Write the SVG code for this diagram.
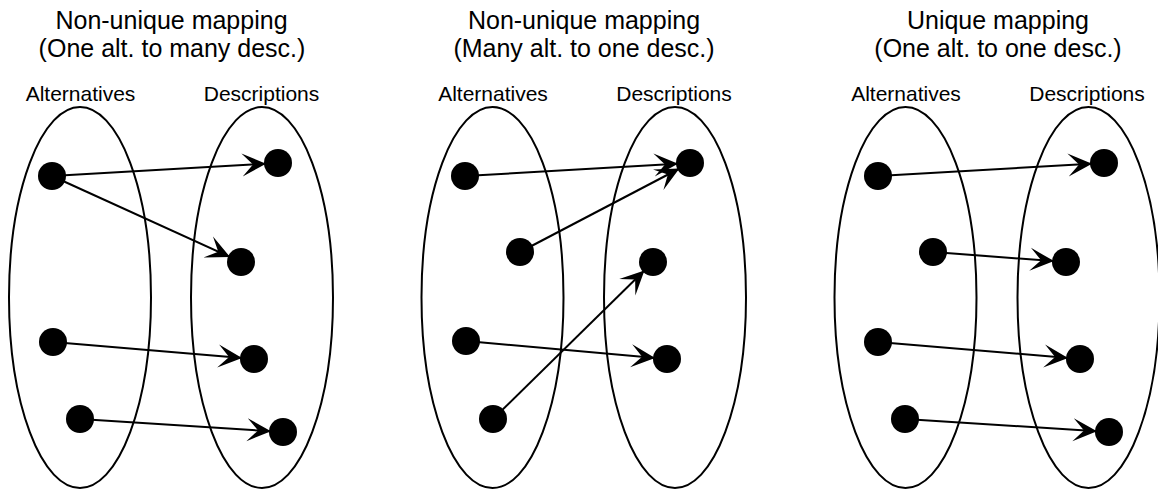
<svg xmlns="http://www.w3.org/2000/svg" width="1158" height="491" viewBox="0 0 1158 491">
  <defs>
    <!-- swallow-tail arrowhead; tip sinks slightly into a 14px dot -->
    <marker id="arrow" markerUnits="userSpaceOnUse" markerWidth="40" markerHeight="24" refX="36" refY="12" orient="auto">
      <path d="M24,12 L0,0.5 L11,12 L0,23.5 Z" fill="#000" stroke="none"/>
    </marker>
  </defs>
  <style>
    text { font-family: "Liberation Sans", Arial, Helvetica, sans-serif; fill: #000; text-anchor: middle; }
    .title { font-size: 25px; }
    .label { font-size: 21px; }
    .set { fill: none; stroke: #000; stroke-width: 2; }
    .dot { fill: #000; }
    .edge { fill: none; stroke: #000; stroke-width: 2; marker-end: url(#arrow); }
  </style>
  <rect width="1158" height="491" fill="#fff"/>

  <!-- headings -->
  <g id="titles">
    <text class="title" x="171.5" y="29">Non-unique mapping</text>
    <text class="title" x="172" y="57">(One alt. to many desc.)</text>
    <text class="title" x="584" y="29">Non-unique mapping</text>
    <text class="title" x="584" y="57">(Many alt. to one desc.)</text>
    <text class="title" x="998" y="29">Unique mapping</text>
    <text class="title" x="998" y="57">(One alt. to one desc.)</text>
  </g>

  <!-- sets -->
  <g id="p1-alternatives"><ellipse class="set" cx="80" cy="297.5" rx="71" ry="190.5"/><text class="label" x="80.5" y="101">Alternatives</text></g>
  <g id="p1-descriptions"><ellipse class="set" cx="262" cy="297.5" rx="71" ry="190.5"/><text class="label" x="261.5" y="101">Descriptions</text></g>
  <g id="p2-alternatives"><ellipse class="set" cx="492.5" cy="297.5" rx="71" ry="190.5"/><text class="label" x="493" y="101">Alternatives</text></g>
  <g id="p2-descriptions"><ellipse class="set" cx="675" cy="297.5" rx="71" ry="190.5"/><text class="label" x="674" y="101">Descriptions</text></g>
  <g id="p3-alternatives"><ellipse class="set" cx="905.5" cy="297.5" rx="71" ry="190.5"/><text class="label" x="906" y="101">Alternatives</text></g>
  <g id="p3-descriptions"><ellipse class="set" cx="1088.5" cy="297.5" rx="71" ry="190.5"/><text class="label" x="1087" y="101">Descriptions</text></g>

  <!-- mappings -->
  <g id="connectors">
    <line class="edge" x1="52" y1="176" x2="278" y2="163"/>
    <line class="edge" x1="52" y1="176" x2="241" y2="262"/>
    <line class="edge" x1="53" y1="342" x2="254" y2="359"/>
    <line class="edge" x1="80" y1="419" x2="283" y2="432"/>

    <line class="edge" x1="465" y1="176" x2="690" y2="163"/>
    <line class="edge" x1="520" y1="252" x2="690" y2="163"/>
    <line class="edge" x1="466" y1="341" x2="667" y2="359"/>
    <line class="edge" x1="493" y1="419" x2="653" y2="262"/>

    <line class="edge" x1="878" y1="176" x2="1104" y2="163"/>
    <line class="edge" x1="933" y1="252" x2="1066" y2="262"/>
    <line class="edge" x1="878" y1="342" x2="1080" y2="359"/>
    <line class="edge" x1="905" y1="419" x2="1109" y2="432"/>
  </g>

  <!-- elements -->
  <g id="p1-a1"><circle class="dot" cx="52" cy="176" r="14"/></g>
  <g id="p1-a3"><circle class="dot" cx="53" cy="342" r="14"/></g>
  <g id="p1-a4"><circle class="dot" cx="80" cy="419" r="14"/></g>
  <g id="p1-d1"><circle class="dot" cx="278" cy="163" r="14"/></g>
  <g id="p1-d2"><circle class="dot" cx="241" cy="262" r="14"/></g>
  <g id="p1-d3"><circle class="dot" cx="254" cy="359" r="14"/></g>
  <g id="p1-d4"><circle class="dot" cx="283" cy="432" r="14"/></g>

  <g id="p2-a1"><circle class="dot" cx="465" cy="176" r="14"/></g>
  <g id="p2-a2"><circle class="dot" cx="520" cy="252" r="14"/></g>
  <g id="p2-a3"><circle class="dot" cx="466" cy="341" r="14"/></g>
  <g id="p2-a4"><circle class="dot" cx="493" cy="419" r="14"/></g>
  <g id="p2-d1"><circle class="dot" cx="690" cy="163" r="14"/></g>
  <g id="p2-d2"><circle class="dot" cx="653" cy="262" r="14"/></g>
  <g id="p2-d3"><circle class="dot" cx="667" cy="359" r="14"/></g>

  <g id="p3-a1"><circle class="dot" cx="878" cy="176" r="14"/></g>
  <g id="p3-a2"><circle class="dot" cx="933" cy="252" r="14"/></g>
  <g id="p3-a3"><circle class="dot" cx="878" cy="342" r="14"/></g>
  <g id="p3-a4"><circle class="dot" cx="905" cy="419" r="14"/></g>
  <g id="p3-d1"><circle class="dot" cx="1104" cy="163" r="14"/></g>
  <g id="p3-d2"><circle class="dot" cx="1066" cy="262" r="14"/></g>
  <g id="p3-d3"><circle class="dot" cx="1080" cy="359" r="14"/></g>
  <g id="p3-d4"><circle class="dot" cx="1109" cy="432" r="14"/></g>
</svg>
